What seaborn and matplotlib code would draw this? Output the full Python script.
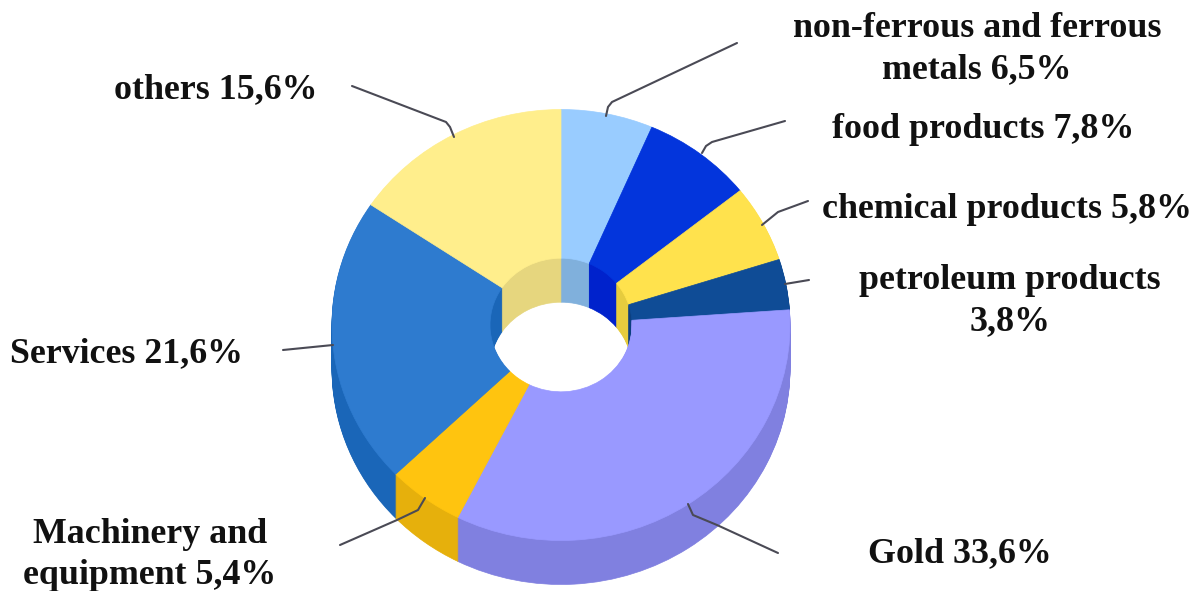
import matplotlib
matplotlib.use('Agg')
import matplotlib.pyplot as plt
import seaborn as sns
import numpy as np

# --- data ---
sectors = ['non-ferrous and ferrous metals', 'food products', 'chemical products',
           'petroleum products', 'Gold', 'Machinery and equipment', 'Services', 'others']
shares = [6.5, 7.8, 5.8, 3.8, 33.6, 5.4, 21.6, 15.6]
top_colors = ['#99CCFF', '#0335DC', '#FFE24D', '#0F4C96', '#9999FF', '#FFC40F', '#2E7BCF', '#FFEE8C']
side_colors = ['#80B0DC', '#0022CC', '#E6CC3E', '#0C3F80', '#8080E0', '#E6B00C', '#1A66B8', '#E6D67E']
label_texts = ['non-ferrous and ferrous\nmetals 6,5%', 'food products 7,8%', 'chemical products 5,8%',
               'petroleum products\n3,8%', 'Gold 33,6%', 'Machinery and\nequipment 5,4%',
               'Services 21,6%', 'others 15,6%']

# --- layout (pixels of the 1201x591 picture) ---
W, H = 1201, 591
CX, CY, RX, RY = 561, 325, 229, 215.5
DEPTH = 44
label_pos = [(977, 49), (983, 129), (1007, 209), (1010, 301), (960, 554), (150, 555), (127, 354), (216, 90)]
leaders = [
    [(737, 43), (612, 102), (608, 107), (606, 116)],
    [(785, 121), (712, 142), (706, 146), (702, 153)],
    [(808, 201), (778, 212), (762, 225)],
    [(809, 280), (785, 284)],
    [(778, 553), (717, 525), (693, 515), (688, 504)],
    [(340, 545), (397, 520), (418, 510), (425, 498)],
    [(283, 350), (333, 345)],
    [(352, 86), (446, 122), (450, 127), (454, 137)],
]

sns.set_theme(style='white')
plt.rcParams['font.family'] = ['Liberation Serif', 'DejaVu Serif']

fig = plt.figure(figsize=(W / 100, H / 100), dpi=100)
ax = fig.add_axes([0, 0, 1, 1])


def draw_ring(colors, offset=0):
    wedges, _ = ax.pie(shares, colors=sns.color_palette(colors), startangle=90, counterclock=False,
                       center=(0, -offset / RY), wedgeprops={'width': 0.69})
    for w in wedges:
        w.set_edgecolor(w.get_facecolor())
        w.set_linewidth(0.5)


# extruded side: stacked copies of the ring, lowest first
for d in np.arange(DEPTH, 0, -1):
    draw_ring(side_colors, d)
# top surface
draw_ring(top_colors)

ax.set_aspect('auto')
ax.set_xlim(-CX / RX, (W - CX) / RX)
ax.set_ylim((CY - H) / RY, CY / RY)

# overlay in pixel coordinates for labels and leader lines
over = fig.add_axes([0, 0, 1, 1], facecolor='none')
over.set_xlim(0, W)
over.set_ylim(H, 0)
over.axis('off')

for pts in leaders:
    xs, ys = zip(*pts)
    over.plot(xs, ys, color='#4A4A55', lw=1.5, solid_capstyle='round', solid_joinstyle='round')

for txt, (x, y) in zip(label_texts, label_pos):
    over.text(x, y, txt, ha='center', va='center', multialignment='center',
              fontsize=25.8, fontweight='bold', color='#111111', linespacing=1.3)

fig.savefig('out.png', dpi=100)
